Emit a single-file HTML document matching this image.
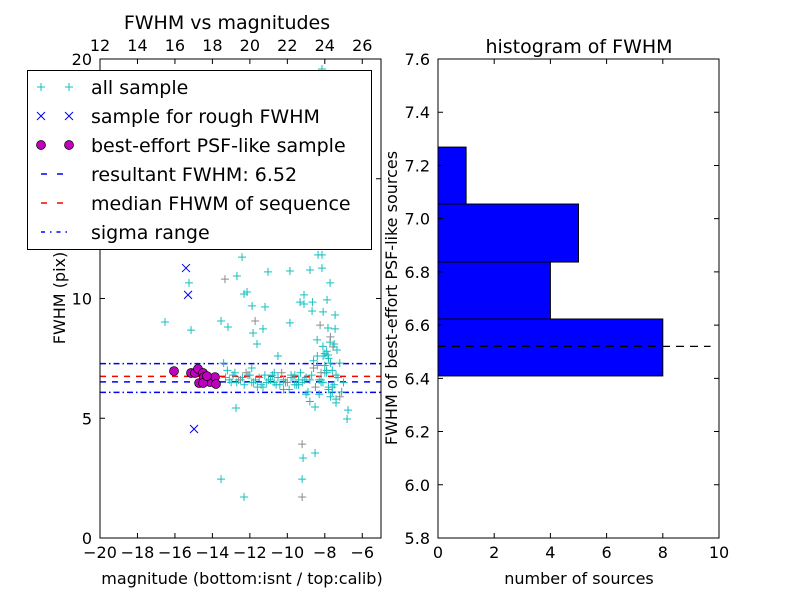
<!DOCTYPE html>
<html><head><meta charset="utf-8"><style>
body{margin:0;background:#fff}
svg{display:block;font-family:"DejaVu Sans","Liberation Sans",sans-serif}
</style></head><body>
<svg id="c" width="800" height="600" viewBox="0 0 800 600"></svg>
<script>
// ---- data: left scatter (magnitude, FWHM) ----
const allX=[-16.53,-15.25,-15.14,-13.54,-13.33,-13.17,-12.74,-12.69,-12.42,-12.31,-12.15,-11.88,-11.83,-11.72,-11.62,-11.30,-11.19,-11.03,-10.50,-9.86,-9.86,-9.32,-9.21,-9.16,-9.11,-8.79,-8.68,-8.66,-8.52,-8.41,-8.36,-8.25,-8.15,-8.09,-8.09,-7.88,-7.83,-7.83,-7.72,-7.72,-7.56,-7.45,-7.45,-7.40,-7.35,-6.81,-6.76,-9.21,-8.52,-9.21,-13.54,-12.31,-9.11,-8.15,-8.15,
-13.3,-13.0,-12.8,-12.5,-12.3,-12.0,-11.8,-11.5,-11.3,-11.0,-10.8,-10.6,-10.3,-10.1,-9.9,-9.7,-9.5,-9.3,-9.1,-8.9,-8.7,-8.5,-8.3,-8.1,-7.9,-7.7,-7.5,-7.3,-7.1,-13.2,-12.6,-12.1,-11.6,-11.1,-10.7,-10.2,-9.8,-9.4,-9.0,-8.6,-8.2,-7.8,-7.4,-7.0,-8.8,-8.4,-8.0,-7.6,-7.2,-10.4,-11.9,-9.6,
-13.4,-13.1,-12.9,-12.7,-12.4,-12.2,-11.9,-11.7,-11.4,-11.2,-10.9,-10.7,-10.5,-10.2,-10.0,-9.8,-9.6,-9.4,-9.2,-9.0,-8.8,-8.6,-8.4,-8.2,-8.0,-7.8,-7.6,-7.4,-7.2,-8.3,-8.1,-7.9,-7.7,-7.5,-8.0,-7.8,-7.6,-8.2,-7.9,-7.7];
const allY=[9.02,10.65,8.68,9.06,10.81,8.81,5.43,10.94,11.73,10.19,10.27,9.69,8.56,9.06,8.10,8.73,9.65,11.11,7.60,11.15,8.98,9.85,3.92,3.34,9.77,11.19,9.48,9.85,3.55,8.27,11.82,8.89,11.82,9.44,7.60,9.94,8.77,7.64,10.65,8.18,7.98,9.31,8.73,5.64,7.85,4.97,5.34,2.46,5.47,1.71,2.46,1.71,10.15,19.58,11.27,
6.7,6.5,6.9,6.6,6.4,6.8,6.5,6.7,6.3,6.6,6.8,6.4,6.9,6.5,6.2,6.7,6.4,6.9,6.6,6.1,6.8,6.3,6.0,6.5,6.9,5.9,6.4,6.7,6.1,7.0,6.6,6.8,6.3,6.5,6.9,6.2,6.7,6.4,6.0,7.1,6.6,6.2,5.8,6.5,5.7,7.2,6.9,6.3,5.9,6.4,7.1,6.8,7.3,
6.6,6.8,6.5,6.7,6.9,6.5,6.6,6.4,6.8,6.6,6.5,6.7,6.6,6.5,6.8,6.4,6.6,6.5,6.7,6.6,7.4,7.6,6.9,7.2,7.5,7.0,6.8,7.3,6.6,8.0,7.8,8.4,8.1,7.7,6.3,6.1,6.5,7.0,7.3,6.9];
const roughX=[-15.41,-15.30,-14.98];
const roughY=[11.27,10.15,4.55];
const bestX=[-16.05,-15.14,-14.93,-14.77,-14.50,-14.71,-14.45,-14.13,-13.86,-13.81,-14.50,-14.29];
const bestY=[6.97,6.89,6.89,7.06,6.89,6.47,6.72,6.51,6.72,6.43,6.47,6.76];
const resultFWHM=6.52, medianFWHM=6.75, sigmaHi=7.28, sigmaLo=6.08;
const xTicks=[-20,-18,-16,-14,-12,-10,-8,-6];
const xTickLabels=["\u221220","\u221218","\u221216","\u221214","\u221212","\u221210","\u22128","\u22126"];
const topTicks=[12,14,16,18,20,22,24,26];
const yTicks=[0,5,10,15,20];
// ---- data: histogram ----
const binEdges=[6.409,6.623,6.837,7.055,7.269];
const binCounts=[8,4,5,1];
const hxTicks=[0,2,4,6,8,10];
const hyTicks=[5.8,6.0,6.2,6.4,6.6,6.8,7.0,7.2,7.4,7.6];
const histLineX=9.7;

const svg=document.getElementById('c');
const NS='http://www.w3.org/2000/svg';
function mk(tag,attrs,parent){const e=document.createElementNS(NS,tag);for(const k in attrs)e.setAttribute(k,attrs[k]);(parent||svg).appendChild(e);return e;}
function txt(s,x,y,size,anchor,parent){const t=mk('text',{x:x,y:y,'font-size':size,'text-anchor':anchor||'middle',fill:'#000'},parent);t.textContent=s;return t;}

const L={x0:100,x1:381,y0:538,y1:59};
const lx=v=>L.x0+(v+20)/15*(L.x1-L.x0);
const ly=v=>L.y0-v/20*(L.y0-L.y1);
const ltx=v=>lx(v-32);
const gL=mk('g',{});


function hline(v,color,dash,name){const l=mk('line',{x1:L.x0,x2:L.x1,y1:ly(v),y2:ly(v),stroke:color,'stroke-width':1.5,'stroke-dasharray':dash},gL);}
hline(sigmaHi,'#0000ff','6 3 1.5 3','sigma-upper-line');
hline(sigmaLo,'#0000ff','6 3 1.5 3','sigma-lower-line');
hline(medianFWHM,'#ff0000','6 6','median-fwhm-line');
hline(resultFWHM,'#0000ff','6 6','resultant-fwhm-line');
for(let i=0;i<allX.length;i++){const x=lx(allX[i]),y=ly(allY[i]);const c=(i%9==4)?'#8c8c8c':'#17bfbf';
 const p=mk('path',{d:`M${x-4},${y}H${x+4}M${x},${y-4}V${y+4}`,stroke:c,'stroke-width':1},gL);
 }
for(let i=0;i<roughX.length;i++){const x=lx(roughX[i]),y=ly(roughY[i]);
 const p=mk('path',{d:`M${x-4},${y-4}L${x+4},${y+4}M${x-4},${y+4}L${x+4},${y-4}`,stroke:'#0000ff','stroke-width':1},gL);
 }
for(let i=0;i<bestX.length;i++){const c=mk('circle',{cx:lx(bestX[i]),cy:ly(bestY[i]),r:4.5,fill:'#bf00bf',stroke:'#000','stroke-width':0.7},gL);
 }
mk('rect',{x:L.x0,y:L.y1,width:L.x1-L.x0,height:L.y0-L.y1,fill:'none',stroke:'#000','stroke-width':1},gL);
xTicks.forEach((v,i)=>{const x=lx(v);mk('path',{d:`M${x},${L.y0}v-5M${x},${L.y1}v5`,stroke:'#000'},gL);txt(xTickLabels[i],x,L.y0+20,16,'middle',gL);});
topTicks.forEach(v=>{const x=ltx(v);txt(String(v),x,L.y1-8,16,'middle',gL);});
yTicks.forEach(v=>{const y=ly(v);mk('path',{d:`M${L.x0},${y}h5M${L.x1},${y}h-5`,stroke:'#000'},gL);txt(String(v),L.x0-8,y+6,16,'end',gL);});
let t=txt('FWHM vs magnitudes',227,29,19);
t=txt('magnitude (bottom:isnt / top:calib)',242,584,16);
t=txt('FWHM (pix)',65,298,16);t.setAttribute('transform','rotate(-90 65 298)');

const lg=mk('g',{});


mk('rect',{x:27.5,y:70.5,width:344,height:179,fill:'#fff',stroke:'#000','stroke-width':1},lg);
const labels=['all sample','sample for rough FWHM','best-effort PSF-like sample','resultant FWHM: 6.52','median FHWM of sequence','sigma range'];
labels.forEach((s,i)=>{const y=87+i*29;
 const e=mk('g',{},lg);
 if(i==0)[41,69].forEach(x=>mk('path',{d:`M${x-4},${y}H${x+4}M${x},${y-4}V${y+4}`,stroke:'#17bfbf'},e));
 if(i==1)[41,69].forEach(x=>mk('path',{d:`M${x-4},${y-4}L${x+4},${y+4}M${x-4},${y+4}L${x+4},${y-4}`,stroke:'#0000ff'},e));
 if(i==2)[41,69].forEach(x=>mk('circle',{cx:x,cy:y,r:4.5,fill:'#bf00bf',stroke:'#000','stroke-width':0.7},e));
 if(i==3)mk('line',{x1:41,x2:69,y1:y,y2:y,stroke:'#0000ff','stroke-width':1.5,'stroke-dasharray':'6 10'},e);
 if(i==4)mk('line',{x1:41,x2:69,y1:y,y2:y,stroke:'#ff0000','stroke-width':1.5,'stroke-dasharray':'6 10'},e);
 if(i==5)mk('line',{x1:41,x2:69,y1:y,y2:y,stroke:'#0000ff','stroke-width':1.5,'stroke-dasharray':'4 5 1.5 5'},e);
 txt(s,91,y+7,19,'start',e);});

const R={x0:438,x1:719,y0:538,y1:59};
const rx=v=>R.x0+v/10*(R.x1-R.x0);
const ry=v=>R.y0-(v-5.8)/1.8*(R.y0-R.y1);
const gR=mk('g',{});


binCounts.forEach((c,i)=>{const b=mk('rect',{x:rx(0),y:ry(binEdges[i+1]),width:rx(c)-rx(0),height:ry(binEdges[i])-ry(binEdges[i+1]),fill:'#0000ff',stroke:'#000','stroke-width':1},gR);
 });
const dl=mk('line',{x1:rx(0),x2:rx(histLineX),y1:ry(resultFWHM),y2:ry(resultFWHM),stroke:'#000','stroke-width':1.2,'stroke-dasharray':'8 6'},gR);

mk('rect',{x:R.x0,y:R.y1,width:R.x1-R.x0,height:R.y0-R.y1,fill:'none',stroke:'#000'},gR);
hxTicks.forEach(v=>{const x=rx(v);mk('path',{d:`M${x},${R.y0}v-5M${x},${R.y1}v5`,stroke:'#000'},gR);txt(String(v),x,R.y0+20,16,'middle',gR);});
hyTicks.forEach(v=>{const y=ry(v);mk('path',{d:`M${R.x0},${y}h5M${R.x1},${y}h-5`,stroke:'#000'},gR);txt(v.toFixed(1),R.x0-8,y+6,16,'end',gR);});
t=txt('histogram of FWHM',579,53,19);
t=txt('number of sources',579,584,16);
t=txt('FWHM of best-effort PSF-like sources',397,298,16);t.setAttribute('transform','rotate(-90 397 298)');
</script>
</body></html>
